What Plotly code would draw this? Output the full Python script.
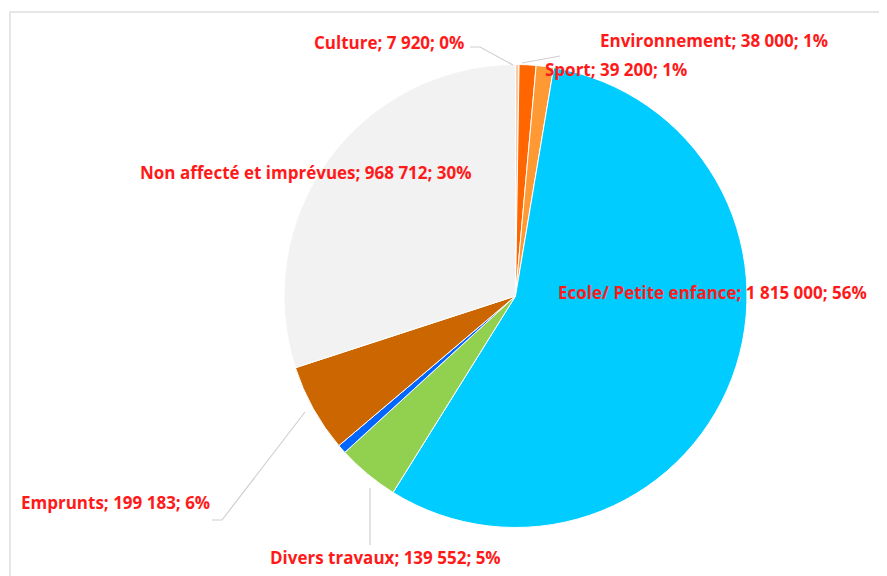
import plotly.graph_objects as go

W, H = 887, 576
OFF = 8  # page body margin offset

labels = ["Culture", "Environnement", "Sport", "Ecole/ Petite enfance",
          "Divers travaux", "Autres", "Emprunts", "Non affecté et imprévues"]
values = [7920, 38000, 39200, 1815000, 139552, 20000, 199183, 968712]
pct_text = ["0%", "1%", "1%", "56%", "5%", "", "6%", "30%"]
colors = ["#F8CBAD", "#FF6600", "#FF9933", "#00CCFF",
          "#92D050", "#0066FF", "#CC6600", "#F2F2F2"]

def px(x):
    return (x - OFF) / W

def py(y):
    return 1 - (y - OFF) / H

def fmt(v):
    return f"{v:,}".replace(",", " ")

fig = go.Figure(go.Pie(
    labels=labels, values=values, sort=False, direction="clockwise",
    rotation=0, marker=dict(colors=colors, line=dict(color="white", width=1)),
    textinfo="none", hoverinfo="label+value+percent",
    domain=dict(x=[px(284), px(747)], y=[py(528), py(64)]),
    showlegend=False,
))

# label positions (left edge x, center y) in pixels; index into the data
label_pos = {
    0: (312, 42),
    1: (598, 41),
    2: (543, 69),
    3: (556, 292),
    4: (268, 557),
    6: (19, 502),
    7: (138, 172),
}

annotations = []
for i, (x, y) in label_pos.items():
    annotations.append(dict(
        x=px(x), y=py(y), xref="paper", yref="paper", xanchor="left", yanchor="middle",
        text=f"{labels[i]}; {fmt(values[i])}; {pct_text[i]}", showarrow=False,
        font=dict(family="Open Sans, sans-serif", size=17, color="#FF1A1A", weight="bold"),
    ))

lc = "#D0D0D0"
leaders = [
    [(470, 47), (480, 47), (513, 65)],
    [(522, 63), (560, 56)],
    [(305, 412), (222, 520), (212, 520)],
    [(370, 488), (370, 545)],
]
shapes = []
for pts in leaders:
    path = "M " + " L ".join(f"{px(x)},{py(y)}" for x, y in pts)
    shapes.append(dict(type="path", path=path, xref="paper", yref="paper",
                       line=dict(color=lc, width=1.2)))

# chart frame
shapes.append(dict(type="rect", xref="paper", yref="paper",
                   x0=px(10), y0=py(620), x1=px(920), y1=py(12),
                   line=dict(color="#E6E6E6", width=2)))

fig.update_layout(
    width=W, height=H, margin=dict(l=0, r=0, t=0, b=0),
    paper_bgcolor="white", plot_bgcolor="white",
    annotations=annotations, shapes=shapes,
)

fig.write_html("out.html")
